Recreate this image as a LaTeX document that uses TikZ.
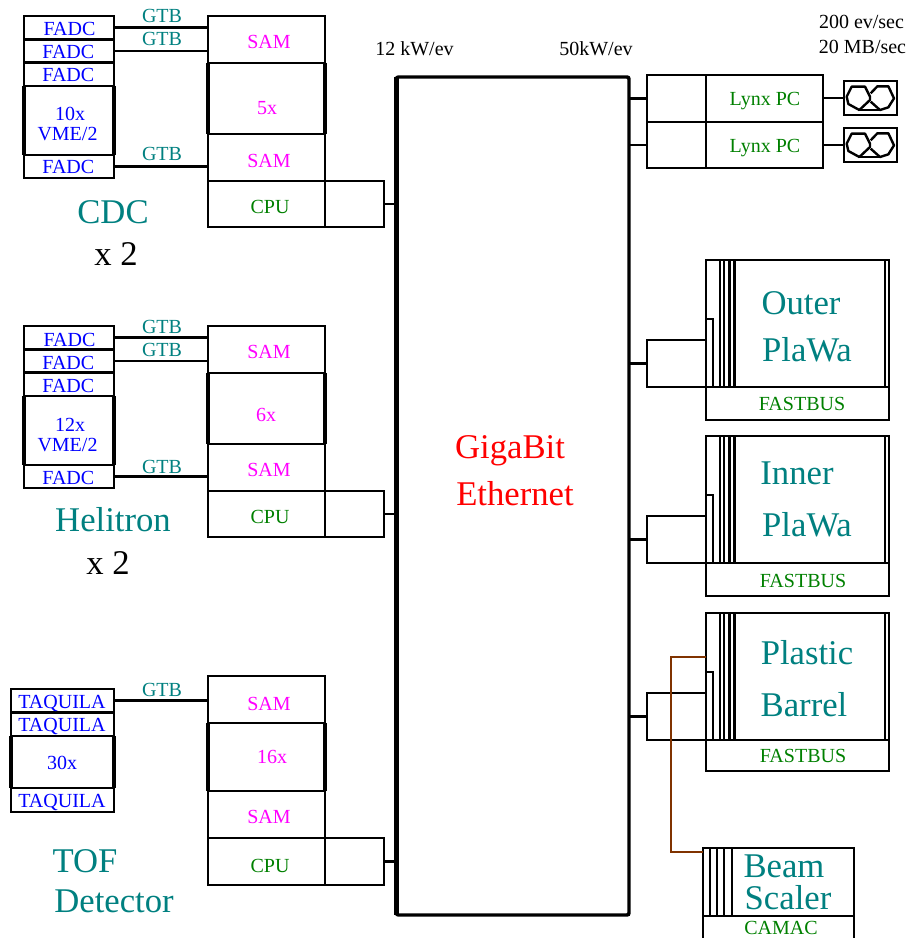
\documentclass[tikz,border=0pt]{standalone}
\usepackage{fontspec}
\setmainfont{Liberation Serif}
\definecolor{cteal}{HTML}{008080}
\definecolor{cblue}{HTML}{0000FF}
\definecolor{cmag}{HTML}{FF00FF}
\definecolor{cgreen}{HTML}{008000}
\definecolor{cbrown}{HTML}{803300}
\tikzset{
  px/.style={x=0.75pt,y=-0.75pt},
  boxn/.style={draw=black,line width=1.6pt,inner sep=0pt,outer sep=0pt,rectangle},
  conn/.style={draw=black,line width=2pt},
  thinl/.style={draw=black,line width=1.6pt},
  sidel/.style={draw=black,line width=2.5pt},
  brownl/.style={draw=cbrown,line width=1.3pt},
  tapel/.style={draw=black,line width=1.8pt,line join=round},
  lab/.style={anchor=base,inner sep=0pt,font=\fontsize{15}{15}\selectfont},
  big/.style={anchor=base,inner sep=0pt,font=\fontsize{26}{26}\selectfont},
}
% box node from corners given in reference pixels
\newcommand{\bx}[6][boxn]{%
  \pgfmathsetmacro{\bxw}{((#5)-(#3))*0.75}%
  \pgfmathsetmacro{\bxh}{((#6)-(#4))*0.75}%
  \node[#1,minimum width=\bxw pt,minimum height=\bxh pt] (#2) at ({((#3)+(#5))/2},{((#4)+(#6))/2}) {};}
\newcommand{\tx}[6][lab]{\node[#1,text=#2] (#3) at (#4,#5) {#6};}
\newcommand{\thk}[1]{%
  \draw[sidel] (#1.north west) -- (#1.south west);
  \draw[sidel] (#1.north east) -- (#1.south east);}
\newcommand{\samcol}[6]{% prefix, y1,y2,y3,y4,y5
  \bx{#1s1}{208}{#2}{325}{#3}
  \bx{#1s3}{208}{#4}{325}{#5}
  \bx{#1cpu}{208}{#5}{325}{#6}
  \bx{#1ext}{325}{#5}{384}{#6}
  \bx{#1s2}{208}{#3}{325}{#4}
  \thk{#1s2}
  \draw[conn] (#1ext.east) -- (bus.west |- #1ext.east);
}
\newcommand{\crate}[5]{% prefix, top, bottom, fastbus bottom, small box top
  \bx{#1fb}{706}{#3}{889}{#4}
  \bx{#1}{706}{#2}{889}{#3}
  \foreach \lx in {14,18,23.5,28.5,179}{\draw[thinl] ($(#1.north west)+(\lx,0)$) -- ($(#1.south west)+(\lx,0)$);}
  \bx{#1sm}{706}{#5}{713}{#3}
}
\newcommand{\tape}[3]{% name, cy, lynx
  \bx{#1}{844}{#2-17}{897}{#2+17}
  \draw[conn] (#3.east |- #1.west) -- (#1.west);
  \begin{scope}[shift={(620,#2-98)}]
    \draw[tapel] (680/3,290/3) -- (695/3,260/3) -- (735/3,260/3) -- (750/3,290/3) -- (750/3,300/3) -- (718/3,330/3) -- (685/3,312/3) -- cycle;
    \draw[tapel] (752/3,280/3) -- (772/3,259/3) -- (805/3,259/3) -- (822/3,295/3) -- (805/3,322/3) -- (780/3,330/3) -- (752/3,305/3);
    \draw[tapel] (718/3,330/3) -- (780/3,330/3);
  \end{scope}
}
\usetikzlibrary{calc}
\begin{document}
\begin{tikzpicture}[px]
\useasboundingbox (0,0) rectangle (907,938);
\clip (0,0) rectangle (907,938);

% central bus
\bx[boxn,line width=2.6pt,rounded corners=1.5pt]{bus}{396.5}{77}{629}{915}
\draw[sidel,line width=3.3pt] (bus.north west) -- (bus.south west);
\tx[big]{red}{giga}{510}{458}{GigaBit}
\tx[big]{red}{ether}{515}{505}{Ethernet}
\tx{black}{rl}{414.5}{56}{12 kW/ev}
\tx{black}{rr}{596}{56}{50kW/ev}

% ---- CDC
\bx{af1}{24}{16}{114}{39.5}
\bx{af2}{24}{39.5}{114}{62.5}
\bx{af3}{24}{62.5}{114}{86}
\bx{af5}{24}{155}{114}{178}
\bx{af4}{24}{86}{114}{155}
\thk{af4}
\samcol{a}{16}{63}{134}{181}{227}
\draw[conn] (af1.east) -- (as1.west |- af1.east);
\draw[conn] (af2.east) -- (as1.west |- af2.east);
\draw[conn] (af5.east) -- (as3.west |- af5.east);
\tx{cblue}{at1}{69.5}{36}{FADC}
\tx{cblue}{at2}{68.3}{59}{FADC}
\tx{cblue}{at3}{68.3}{82}{FADC}
\tx{cblue}{at4}{70}{121}{10x}
\tx{cblue}{at5}{67.5}{141}{VME/2}
\tx{cblue}{at6}{68.3}{174}{FADC}
\tx{cteal}{ag1}{162}{23}{GTB}
\tx{cteal}{ag2}{162}{46}{GTB}
\tx{cteal}{ag3}{162}{161}{GTB}
\tx{cmag}{am1}{269}{49}{SAM}
\tx{cmag}{am2}{267}{115}{5x}
\tx{cmag}{am3}{269}{167}{SAM}
\tx{cgreen}{ac}{270}{213}{CPU}
\tx[big]{cteal}{aname}{113}{223}{CDC}
\tx[big]{black}{ax}{116}{265}{x 2}

% ---- Helitron
\bx{bf1}{24}{326}{114}{349.5}
\bx{bf2}{24}{349.5}{114}{372.5}
\bx{bf3}{24}{372.5}{114}{396}
\bx{bf5}{24}{465}{114}{488}
\bx{bf4}{24}{396}{114}{465}
\thk{bf4}
\samcol{b}{326}{373}{444}{491}{537}
\draw[conn] (bf1.east) -- (bs1.west |- bf1.east);
\draw[conn] (bf2.east) -- (bs1.west |- bf2.east);
\draw[conn] (bf5.east) -- (bs3.west |- bf5.east);
\tx{cblue}{bt1}{69.5}{346}{FADC}
\tx{cblue}{bt2}{68.3}{369}{FADC}
\tx{cblue}{bt3}{68.3}{392}{FADC}
\tx{cblue}{bt4}{70}{431}{12x}
\tx{cblue}{bt5}{67.5}{451}{VME/2}
\tx{cblue}{bt6}{68.3}{484}{FADC}
\tx{cteal}{bg1}{162}{333}{GTB}
\tx{cteal}{bg2}{162}{356}{GTB}
\tx{cteal}{bg3}{162}{473}{GTB}
\tx{cmag}{bm1}{269}{358}{SAM}
\tx{cmag}{bm2}{266}{421}{6x}
\tx{cmag}{bm3}{269}{476}{SAM}
\tx{cgreen}{bc}{270}{523}{CPU}
\tx[big]{cteal}{bname}{113}{531}{Helitron}
\tx[big]{black}{bx}{108}{574}{x 2}

% ---- TOF
\bx{cf1}{11}{689}{114}{712.5}
\bx{cf2}{11}{712.5}{114}{736}
\bx{cf4}{11}{788}{114}{812}
\bx{cf3}{11}{736}{114}{788}
\thk{cf3}
\samcol{c}{676}{723}{791}{838}{885}
\draw[conn] (cf1.east) -- (cs1.west |- cf1.east);
\tx{cblue}{ct1}{62}{708}{TAQUILA}
\tx{cblue}{ct2}{62}{731}{TAQUILA}
\tx{cblue}{ct3}{62}{769}{30x}
\tx{cblue}{ct4}{62}{807}{TAQUILA}
\tx{cteal}{cg1}{162}{696}{GTB}
\tx{cmag}{cm1}{269}{710}{SAM}
\tx{cmag}{cm2}{272}{763}{16x}
\tx{cmag}{cm3}{269}{823}{SAM}
\tx{cgreen}{cc}{270}{872}{CPU}
\tx[big]{cteal}{cname}{85}{872}{TOF}
\tx[big]{cteal}{cdet}{114}{912}{Detector}

% ---- Lynx PCs
\bx{l1a}{647}{75}{706}{122}
\bx{l1b}{706}{75}{823}{122}
\bx{l2a}{647}{122}{706}{168}
\bx{l2b}{706}{122}{823}{168}
\draw[conn] (bus.east |- l1a.west) -- (l1a.west);
\draw[conn] (bus.east |- l2a.west) -- (l2a.west);
\tape{t1}{98}{l1b}
\tape{t2}{145}{l2b}
\tx{cgreen}{ly1}{765}{106}{Lynx PC}
\tx{cgreen}{ly2}{765}{152}{Lynx PC}
\tx{black}{rate1}{861.5}{29}{200 ev/sec}
\tx{black}{rate2}{862.5}{54}{20 MB/sec}

% ---- Outer PlaWa
\crate{o}{260}{387}{420}{319}
\bx{ofeed}{647}{340}{706}{387}
\draw[conn] (bus.east |- ofeed.west) -- (ofeed.west);
\tx[big]{cteal}{ot1}{801}{314}{Outer}
\tx[big]{cteal}{ot2}{807}{361}{PlaWa}
\tx{cgreen}{ot3}{802}{410}{FASTBUS}

% ---- Inner PlaWa
\crate{i}{436}{563}{596}{495}
\bx{ifeed}{647}{516}{706}{563}
\draw[conn] (bus.east |- ifeed.west) -- (ifeed.west);
\tx[big]{cteal}{it1}{797}{484}{Inner}
\tx[big]{cteal}{it2}{807}{536}{PlaWa}
\tx{cgreen}{it3}{803}{587}{FASTBUS}

% ---- Plastic Barrel
\crate{p}{613}{740}{771}{672}
\bx{pfeed}{647}{693}{706}{740}
\draw[conn] (bus.east |- pfeed.west) -- (pfeed.west);
\tx[big]{cteal}{pt1}{807}{664}{Plastic}
\tx[big]{cteal}{pt2}{804}{716}{Barrel}
\tx{cgreen}{pt3}{803}{762}{FASTBUS}

% ---- Beam Scaler
\bx{bsc}{703}{848}{854}{916}
\bx{cam}{703}{916}{854}{945}
\foreach \lx in {7,14,21,29}{\draw[thinl] ($(bsc.north west)+(\lx,0)$) -- ($(bsc.south west)+(\lx,0)$);}
\draw[brownl] (706,657) -- (671,657) -- (671,852) -- (703,852);
\tx[big]{cteal}{st1}{784}{877}{Beam}
\tx[big]{cteal}{st2}{788}{909}{Scaler}
\tx{cgreen}{st3}{781}{934}{CAMAC}
\end{tikzpicture}
\end{document}
